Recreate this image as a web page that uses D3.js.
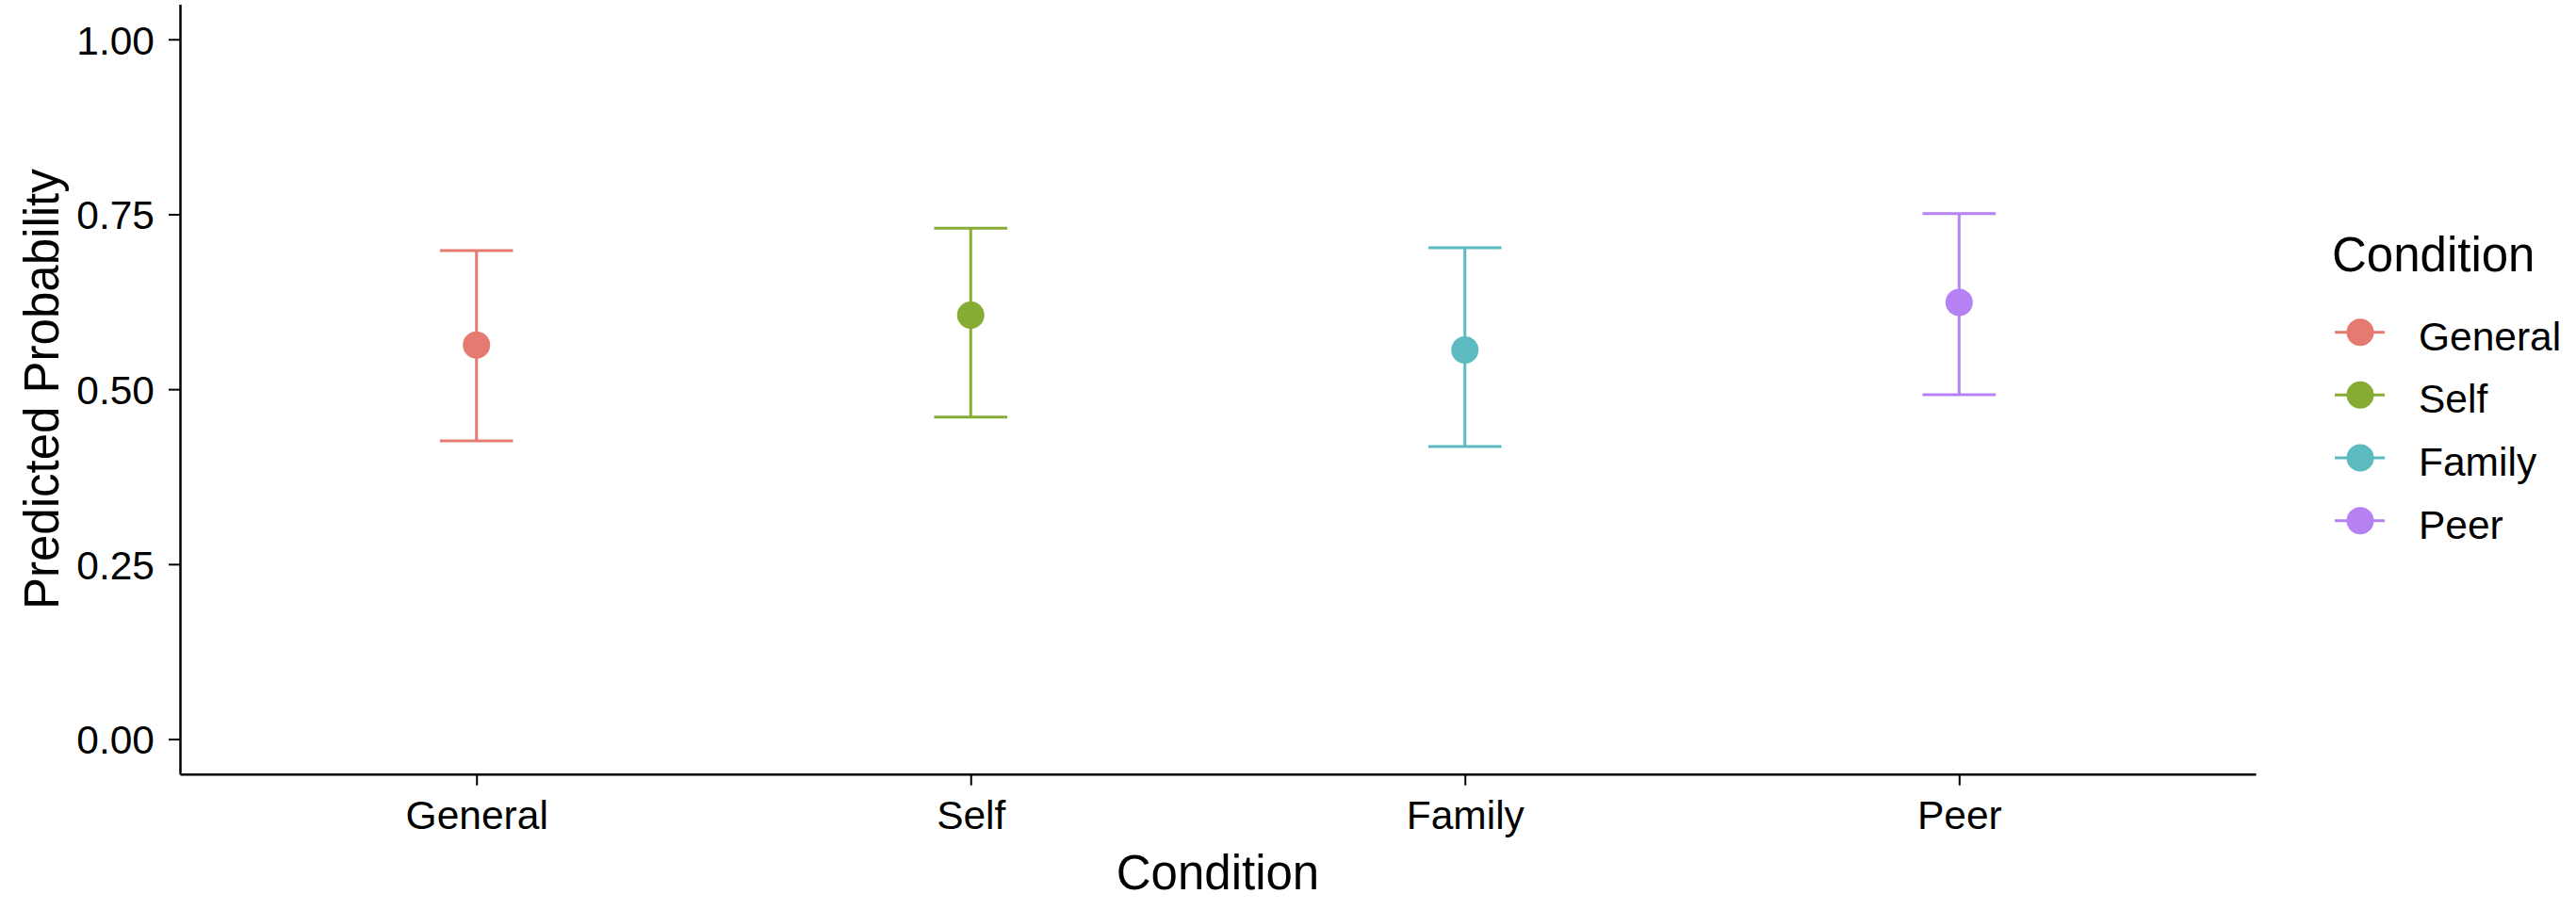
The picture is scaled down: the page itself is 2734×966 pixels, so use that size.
<!DOCTYPE html>
<html>
<head>
<meta charset="utf-8">
<script src="https://cdn.jsdelivr.net/npm/d3@7"></script>
<style>
  body { margin: 0; background: #fff; }
  text { font-family: "Liberation Sans", Arial, sans-serif; }
</style>
</head>
<body>
<svg id="chart"></svg>
<script>
// data
const conditions = ['General', 'Self', 'Family', 'Peer'];
const prob  = [0.563, 0.606, 0.556, 0.624];
const lower = [0.426, 0.460, 0.418, 0.492];
const upper = [0.698, 0.730, 0.702, 0.751];
const yTicks = [0, 0.25, 0.5, 0.75, 1];
const colors = ['#E57B70', '#86AC33', '#5BBBC0', '#B581F3'];

const width = 2734, height = 966;
const svg = d3.select('#chart').attr('width', width).attr('height', height);
svg.append('rect').attr('width', width).attr('height', height).attr('fill', '#fff');

// panel box
const panelLeft = 191, panelRight = 2394, panelTop = 4.6, panelBottom = 821.7;

const x = d3.scalePoint().domain(conditions).range([panelLeft, panelRight]).padding(0.6);
const y = d3.scaleLinear().domain([-0.05, 1.05]).range([panelBottom, panelTop]);
const color = d3.scaleOrdinal().domain(conditions).range(colors);

const rows = conditions.map((c, i) => ({ c: c, p: prob[i], lo: lower[i], hi: upper[i] }));

// axes
const yAxis = svg.append('g')
  .attr('transform', `translate(${panelLeft},0)`)
  .call(d3.axisLeft(y).tickValues(yTicks).tickFormat(d3.format('.2f'))
    .tickSize(12).tickSizeOuter(0).tickPadding(15));

const xAxis = svg.append('g')
  .attr('transform', `translate(0,${panelBottom})`)
  .call(d3.axisBottom(x).tickSize(12).tickSizeOuter(0).tickPadding(16));

[yAxis, xAxis].forEach(g => {
  g.select('.domain').attr('stroke', '#000').attr('stroke-width', 2.5);
  g.selectAll('.tick line').attr('stroke', '#000').attr('stroke-width', 2);
  g.selectAll('.tick text').attr('font-size', 42.5).attr('fill', '#000')
    .attr('font-family', '"Liberation Sans", Arial, sans-serif');
});
yAxis.selectAll('.tick text').attr('dy', '0.36em');

// error bars
const capHalf = x.step() * 0.074;
const bars = svg.append('g').selectAll('g').data(rows).join('g')
  .attr('stroke', d => color(d.c)).attr('stroke-width', 3).attr('fill', 'none');

bars.append('line')
  .attr('x1', d => x(d.c)).attr('x2', d => x(d.c))
  .attr('y1', d => y(d.lo)).attr('y2', d => y(d.hi));
bars.append('line')
  .attr('x1', d => x(d.c) - capHalf).attr('x2', d => x(d.c) + capHalf)
  .attr('y1', d => y(d.hi)).attr('y2', d => y(d.hi));
bars.append('line')
  .attr('x1', d => x(d.c) - capHalf).attr('x2', d => x(d.c) + capHalf)
  .attr('y1', d => y(d.lo)).attr('y2', d => y(d.lo));

// points
svg.append('g').selectAll('circle').data(rows).join('circle')
  .attr('cx', d => x(d.c)).attr('cy', d => y(d.p)).attr('r', 14.5)
  .attr('fill', d => color(d.c));

// axis titles
svg.append('text')
  .attr('x', (panelLeft + panelRight) / 2).attr('y', 944)
  .attr('text-anchor', 'middle').attr('font-size', 51).attr('fill', '#000')
  .text('Condition');

svg.append('text')
  .attr('transform', `translate(62,${(panelTop + panelBottom) / 2}) rotate(-90)`)
  .attr('text-anchor', 'middle').attr('font-size', 51).attr('fill', '#000')
  .text('Predicted Probability');

// legend
const legend = svg.append('g');
legend.append('text')
  .attr('x', 2475).attr('y', 288)
  .attr('font-size', 51).attr('fill', '#000')
  .text('Condition');

const legendY = d3.scalePoint().domain(conditions).range([352.7, 552.7]);
const keys = legend.selectAll('g.key').data(conditions).join('g')
  .attr('class', 'key')
  .attr('transform', d => `translate(0,${legendY(d)})`);

keys.append('line')
  .attr('x1', 2478).attr('x2', 2531).attr('y1', 0).attr('y2', 0)
  .attr('stroke', d => color(d)).attr('stroke-width', 3);
keys.append('circle')
  .attr('cx', 2505).attr('cy', 0).attr('r', 14.5)
  .attr('fill', d => color(d));
keys.append('text')
  .attr('x', 2567).attr('y', 19)
  .attr('font-size', 42.5).attr('fill', '#000')
  .text(d => d);
</script>
</body>
</html>
